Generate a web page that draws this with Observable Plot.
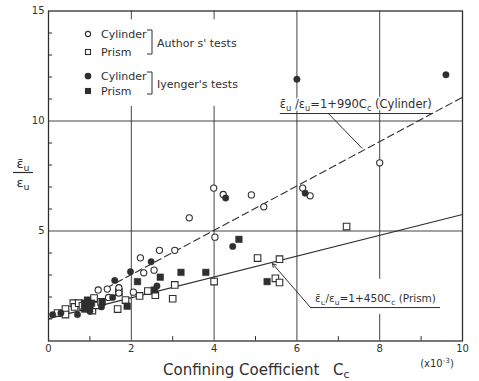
<!DOCTYPE html>
<html>
<head>
<meta charset="utf-8">
<script src="https://cdn.jsdelivr.net/npm/d3@7"></script>
<script src="https://cdn.jsdelivr.net/npm/@observablehq/plot@0.6"></script>
<style>
  html, body { margin: 0; padding: 0; background: #fff; }
  svg text { font-family: "DejaVu Sans", sans-serif; }
</style>
</head>
<body>
<div id="chart"></div>
<script>
// ---------- data ----------
const authorsCylinder = [
  [1.2,2.32],[1.42,2.36],[1.7,2.42],[1.7,2.18],[1.45,1.98],[2.05,2.22],[2.22,3.78],
  [2.3,3.1],[2.55,3.22],[2.68,4.12],[3.05,4.12],[3.4,5.6],[3.99,6.95],[4.02,4.72],
  [4.22,6.66],[4.9,6.64],[5.2,6.1],[6.14,6.95],[6.32,6.6],[8.0,8.1]
];
const authorsPrism = [
  [0.22,1.27],[0.41,1.45],[0.41,1.2],[0.6,1.72],[0.63,1.55],[0.73,1.72],[0.82,1.6],
  [0.99,1.48],[1.06,1.38],[1.1,1.95],[1.15,1.62],[1.27,1.78],[1.67,1.45],[1.7,2.22],
  [1.86,1.86],[2.2,2.05],[2.4,2.27],[2.58,2.08],[3.0,1.92],[3.05,2.55],[4.0,2.7],
  [5.05,3.77],[5.58,3.72],[5.48,2.85],[5.58,2.66],[7.2,5.2]
];
const iyengarCylinder = [
  [0.1,1.2],[0.3,1.27],[0.7,1.2],[1.0,1.35],[1.28,1.55],[1.55,1.98],[1.6,2.75],
  [1.98,3.15],[2.48,3.6],[2.62,2.5],[4.28,6.5],[4.45,4.3],[6.2,6.72],[6.0,11.9],[9.6,12.1]
];
const iyengarPrism = [
  [0.87,1.72],[0.94,1.86],[1.04,1.72],[0.87,1.45],[1.3,1.77],[1.9,1.58],[2.15,2.7],
  [2.7,2.9],[3.2,3.12],[3.8,3.12],[4.6,4.62],[5.28,2.7],[2.56,2.32],[1.0,1.6]
];
// fitted lines as drawn in the figure
const cylinderFitX = [1.4, 10];
const cylinderFitY = [2.41, 11.08];
const prismFitX = [0, 10];
const prismFitY = [1.02, 5.75];

// axes
const xTicks = [0, 2, 4, 6, 8, 10];
const xMinorTicks = [1, 3, 5, 7, 9];
const yTicks = [5, 10, 15];
const yMinorTicks = [1, 2, 3, 4, 6, 7, 8, 9, 11, 12, 13, 14];
const gridYValues = [5, 10];
const gridXSegments = [
  {x: 2, y1: 0, y2: 10.66}, {x: 2, y1: 14.6, y2: 15},
  {x: 4, y1: 0, y2: 10.66}, {x: 4, y1: 14.6, y2: 15},
  {x: 6, y1: 0, y2: 15},
  {x: 8, y1: 2.8, y2: 15}, {x: 8, y1: 0, y2: 1.2}
];
// annotation geometry (data units)
const cylUnderline = [{y: 10.34, x1: 5.6, x2: 9.3}];
const cylLeader = [{x1: 6.76, y1: 10.34, x2: 7.58, y2: 8.75}];
const prismUnderline = [{y: 1.52, x1: 6.33, x2: 9.47}];
const prismLeader = [{x1: 6.33, y1: 1.52, x2: 5.41, y2: 3.52}];

const ink = "#2f2f2f";
const toXY = a => a.map(([x, y]) => ({x, y}));

const plot = Plot.plot({
  width: 479,
  height: 381,
  marginLeft: 48,
  marginRight: 17,
  marginTop: 10.5,
  marginBottom: 40.5,
  x: {domain: [0, 10]},
  y: {domain: [0, 15]},
  style: {background: "#fff", color: ink, fontFamily: "DejaVu Sans, sans-serif", fontSize: "10px"},
  marks: [
    Plot.ruleX(gridXSegments, {x: "x", y1: "y1", y2: "y2", stroke: ink, strokeWidth: 0.9}),
    Plot.ruleY(gridYValues, {stroke: ink, strokeWidth: 0.9}),
    Plot.frame({stroke: ink, strokeWidth: 1.3}),
    Plot.ruleY(yMinorTicks, {x1: 0, x2: 0.1, stroke: ink, strokeWidth: 1}),
    Plot.ruleX(xMinorTicks, {y1: 0, y2: 0.2, stroke: ink, strokeWidth: 1}),
    Plot.axisY({ticks: yTicks, tickSize: 0, tickPadding: 4, label: null, fontSize: 10}),
    Plot.axisX({ticks: xTicks, tickSize: 0, tickPadding: 4, label: null, fontSize: 10}),
    Plot.line(cylinderFitX.map((x, i) => ({x, y: cylinderFitY[i]})), {x: "x", y: "y", stroke: ink, strokeWidth: 1.1, strokeDasharray: "7,4"}),
    Plot.line(prismFitX.map((x, i) => ({x, y: prismFitY[i]})), {x: "x", y: "y", stroke: ink, strokeWidth: 1.2}),
    Plot.ruleY(cylUnderline, {y: "y", x1: "x1", x2: "x2", stroke: ink, strokeWidth: 1}),
    Plot.link(cylLeader, {x1: "x1", y1: "y1", x2: "x2", y2: "y2", stroke: ink, strokeWidth: 1}),
    Plot.ruleY(prismUnderline, {y: "y", x1: "x1", x2: "x2", stroke: ink, strokeWidth: 1}),
    Plot.arrow(prismLeader, {x1: "x1", y1: "y1", x2: "x2", y2: "y2", stroke: ink, strokeWidth: 1, headLength: 6}),
    Plot.dot(toXY(authorsPrism), {x: "x", y: "y", symbol: "square", r: 3.7, fill: "#fff", stroke: ink, strokeWidth: 1.1}),
    Plot.dot(toXY(authorsCylinder), {x: "x", y: "y", symbol: "circle", r: 3.1, fill: "#fff", stroke: ink, strokeWidth: 1.1}),
    Plot.dot(toXY(iyengarPrism), {x: "x", y: "y", symbol: "square", r: 3.7, fill: ink, stroke: ink, strokeWidth: 0.5}),
    Plot.dot(toXY(iyengarCylinder), {x: "x", y: "y", symbol: "circle", r: 3.2, fill: ink, stroke: ink, strokeWidth: 0.5})
  ]
});
document.getElementById("chart").appendChild(plot);

// ---------- rich text (subscripts, overbars) ----------
const svg = d3.select(plot);
const xs = plot.scale("x"), ys = plot.scale("y");
function rich(x, y, parts, {size = 11, anchor = "start", halo = false} = {}) {
  const t = svg.append("text")
    .attr("x", x).attr("y", y)
    .attr("font-size", size)
    .attr("fill", ink)
    .attr("text-anchor", anchor);
  if (halo) t.attr("stroke", "#fff").attr("stroke-width", 3).attr("paint-order", "stroke").attr("stroke-linejoin", "round");
  let shift = 0;
  for (const [s, kind, ax] of parts) {
    const target = kind === "sub" ? 3 : kind === "sup" ? -4 : 0;
    const sp = t.append("tspan").text(s).attr("dy", target - shift);
    if (ax != null) sp.attr("x", ax);
    if (kind === "sub" || kind === "sup") sp.attr("font-size", size * 0.72);
    shift = target;
  }
  return t;
}

// cylinder equation
rich(xs.apply(5.6), ys.apply(10.55), [["ε\u0304", "n"], ["u", "sub"], [" /ε", "n"], ["u", "sub"], ["=1+990C", "n"], ["c", "sub"], [" (Cylinder)", "n"]], {size: 11.5, halo: true});
// prism equation
rich(xs.apply(6.45), ys.apply(1.74), [["ε\u0304", "n"], ["u", "sub"], ["/ε", "n"], ["u", "sub"], ["=1+450C", "n"], ["c", "sub"], [" (Prism)", "n"]], {size: 10.5, halo: true});

// axis title
rich(163, 375, [["Confining Coefficient", "n"], ["C", "n", 333], ["c", "sub"]], {size: 15});
// multiplier
rich(437, 367, [["(x10", "n"], ["-3", "sup"], [")", "n"]], {size: 10, anchor: "middle"});

// y label as a fraction
rich(23, 168, [["ε\u0304", "n"], ["u", "sub"]], {size: 13, anchor: "middle"});
svg.append("line").attr("x1", 13).attr("x2", 33).attr("y1", 172.5).attr("y2", 172.5).attr("stroke", ink).attr("stroke-width", 1.2);
rich(23, 187, [["ε", "n"], ["u", "sub"]], {size: 13, anchor: "middle"});

// ---------- legend ----------
const lg = svg.append("g").attr("fill", ink).attr("font-size", 11).attr("text-anchor", "start");
const legendRows = [
  {y: 34, sym: "circle", filled: false, label: "Cylinder"},
  {y: 52, sym: "square", filled: false, label: "Prism"},
  {y: 76, sym: "circle", filled: true, label: "Cylinder"},
  {y: 91, sym: "square", filled: true, label: "Prism"}
];
for (const r of legendRows) {
  if (r.sym === "circle") {
    lg.append("circle").attr("cx", 88).attr("cy", r.y).attr("r", r.filled ? 2.8 : 2.6)
      .attr("fill", r.filled ? ink : "#fff").attr("stroke", ink).attr("stroke-width", 1.1);
  } else {
    lg.append("rect").attr("x", 85.5).attr("y", r.y - 2.5).attr("width", 5).attr("height", 5)
      .attr("fill", r.filled ? ink : "#fff").attr("stroke", ink).attr("stroke-width", 1.1);
  }
  lg.append("text").attr("x", 101).attr("y", r.y + 4).attr("text-anchor", "start").text(r.label);
}
const brackets = [{y1: 30, y2: 54, ty: 47, label: "Author s' tests"}, {y1: 72, y2: 94, ty: 88, label: "Iyenger's tests"}];
for (const b of brackets) {
  lg.append("path").attr("d", `M147,${b.y1}H152V${b.y2}H147`).attr("fill", "none").attr("stroke", ink).attr("stroke-width", 1);
  lg.append("text").attr("x", 157).attr("y", b.ty).attr("text-anchor", "start").text(b.label);
}
</script>
</body>
</html>
